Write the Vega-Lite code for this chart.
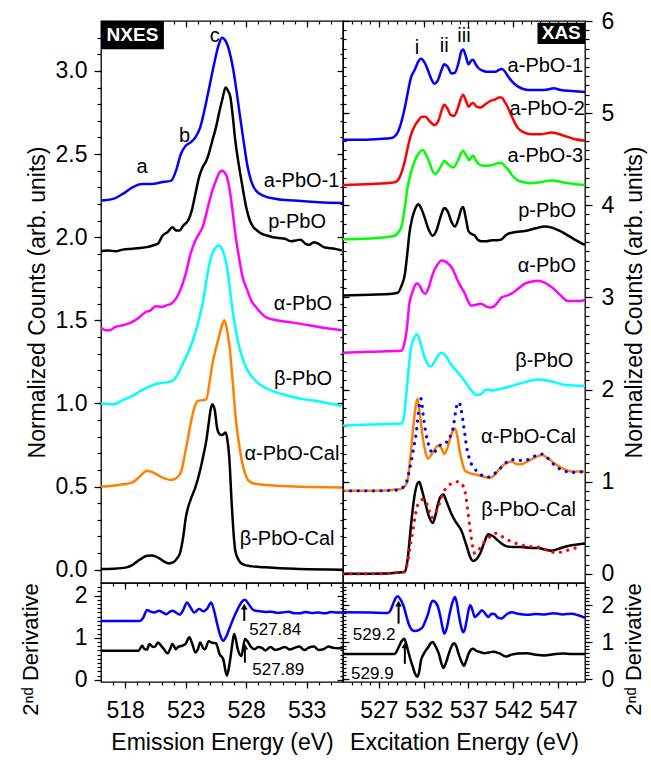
{
  "$schema": "https://vega.github.io/schema/vega-lite/v6.json",
  "background": "white",
  "padding": {"left": 18, "top": 9, "right": 3, "bottom": 3},
  "columns": 2,
  "spacing": 0,
  "align": "each",
  "bounds": "flush",
  "config": {
    "view": {"stroke": "black", "strokeWidth": 1.3},
    "font": "Liberation Sans",
    "text": {"font": "Liberation Sans", "color": "black"},
    "axis": {
      "grid": false, "domain": false, "tickColor": "black", "tickWidth": 1.2,
      "labelColor": "black", "titleColor": "black",
      "labelFont": "Liberation Sans", "titleFont": "Liberation Sans",
      "labelFontSize": 23, "titleFontSize": 23, "titleFontWeight": "normal",
      "labelOverlap": false, "labelFlush": false
    }
  },
  "datasets": {
    "nxes": [
      {"series":"a-PbO-1","energy":516,"value":2.22},{"series":"a-PbO-1","energy":517,"value":2.23},{"series":"a-PbO-1","energy":517.8,"value":2.26},{"series":"a-PbO-1","energy":518.6,"value":2.3},{"series":"a-PbO-1","energy":519.4,"value":2.32},{"series":"a-PbO-1","energy":520.2,"value":2.32},{"series":"a-PbO-1","energy":521,"value":2.33},{"series":"a-PbO-1","energy":521.8,"value":2.34},{"series":"a-PbO-1","energy":522.2,"value":2.4},{"series":"a-PbO-1","energy":522.6,"value":2.5},{"series":"a-PbO-1","energy":523,"value":2.55},{"series":"a-PbO-1","energy":523.4,"value":2.57},{"series":"a-PbO-1","energy":523.8,"value":2.6},{"series":"a-PbO-1","energy":524.2,"value":2.66},{"series":"a-PbO-1","energy":524.6,"value":2.78},{"series":"a-PbO-1","energy":525,"value":2.92},{"series":"a-PbO-1","energy":525.4,"value":3.06},{"series":"a-PbO-1","energy":525.7,"value":3.15},{"series":"a-PbO-1","energy":526,"value":3.2},{"series":"a-PbO-1","energy":526.3,"value":3.18},{"series":"a-PbO-1","energy":526.6,"value":3.12},{"series":"a-PbO-1","energy":526.9,"value":3.02},{"series":"a-PbO-1","energy":527.2,"value":2.88},{"series":"a-PbO-1","energy":527.5,"value":2.72},{"series":"a-PbO-1","energy":527.8,"value":2.57},{"series":"a-PbO-1","energy":528.1,"value":2.43},{"series":"a-PbO-1","energy":528.4,"value":2.34},{"series":"a-PbO-1","energy":528.8,"value":2.28},{"series":"a-PbO-1","energy":529.4,"value":2.25},{"series":"a-PbO-1","energy":530.5,"value":2.23},{"series":"a-PbO-1","energy":532,"value":2.22},{"series":"a-PbO-1","energy":534,"value":2.21},{"series":"a-PbO-1","energy":536,"value":2.205},
      {"series":"p-PbO","energy":516,"value":1.917},{"series":"p-PbO","energy":516.6,"value":1.92},{"series":"p-PbO","energy":517.2,"value":1.915},{"series":"p-PbO","energy":517.8,"value":1.925},{"series":"p-PbO","energy":518.6,"value":1.93},{"series":"p-PbO","energy":519.2,"value":1.935},{"series":"p-PbO","energy":519.8,"value":1.94},{"series":"p-PbO","energy":520.3,"value":1.95},{"series":"p-PbO","energy":520.7,"value":1.96},{"series":"p-PbO","energy":521.1,"value":2.01},{"series":"p-PbO","energy":521.5,"value":2.03},{"series":"p-PbO","energy":521.9,"value":2.06},{"series":"p-PbO","energy":522.2,"value":2.04},{"series":"p-PbO","energy":522.5,"value":2.04},{"series":"p-PbO","energy":522.8,"value":2.07},{"series":"p-PbO","energy":523.2,"value":2.1},{"series":"p-PbO","energy":523.5,"value":2.16},{"series":"p-PbO","energy":523.8,"value":2.26},{"series":"p-PbO","energy":524.1,"value":2.36},{"series":"p-PbO","energy":524.4,"value":2.42},{"series":"p-PbO","energy":524.7,"value":2.46},{"series":"p-PbO","energy":524.9,"value":2.5},{"series":"p-PbO","energy":525.2,"value":2.58},{"series":"p-PbO","energy":525.5,"value":2.66},{"series":"p-PbO","energy":525.8,"value":2.76},{"series":"p-PbO","energy":526,"value":2.82},{"series":"p-PbO","energy":526.3,"value":2.9},{"series":"p-PbO","energy":526.5,"value":2.88},{"series":"p-PbO","energy":526.7,"value":2.84},{"series":"p-PbO","energy":526.9,"value":2.72},{"series":"p-PbO","energy":527.1,"value":2.58},{"series":"p-PbO","energy":527.4,"value":2.43},{"series":"p-PbO","energy":527.7,"value":2.3},{"series":"p-PbO","energy":528,"value":2.18},{"series":"p-PbO","energy":528.3,"value":2.1},{"series":"p-PbO","energy":528.6,"value":2.06},{"series":"p-PbO","energy":528.9,"value":2.04},{"series":"p-PbO","energy":529.3,"value":2.02},{"series":"p-PbO","energy":529.7,"value":2.01},{"series":"p-PbO","energy":530.2,"value":2.0},{"series":"p-PbO","energy":530.7,"value":1.995},{"series":"p-PbO","energy":531.2,"value":1.99},{"series":"p-PbO","energy":531.7,"value":1.975},{"series":"p-PbO","energy":532.1,"value":1.98},{"series":"p-PbO","energy":532.5,"value":1.985},{"series":"p-PbO","energy":532.9,"value":1.96},{"series":"p-PbO","energy":533.2,"value":1.955},{"series":"p-PbO","energy":533.6,"value":1.97},{"series":"p-PbO","energy":534,"value":1.96},{"series":"p-PbO","energy":534.4,"value":1.94},{"series":"p-PbO","energy":534.8,"value":1.935},{"series":"p-PbO","energy":535.3,"value":1.93},{"series":"p-PbO","energy":535.9,"value":1.92},
      {"series":"α-PbO","energy":516,"value":1.456},{"series":"α-PbO","energy":516.4,"value":1.44},{"series":"α-PbO","energy":516.7,"value":1.44},{"series":"α-PbO","energy":517.2,"value":1.46},{"series":"α-PbO","energy":517.8,"value":1.47},{"series":"α-PbO","energy":518.6,"value":1.49},{"series":"α-PbO","energy":519.2,"value":1.52},{"series":"α-PbO","energy":519.7,"value":1.55},{"series":"α-PbO","energy":520.1,"value":1.56},{"series":"α-PbO","energy":520.5,"value":1.585},{"series":"α-PbO","energy":521,"value":1.58},{"series":"α-PbO","energy":521.4,"value":1.59},{"series":"α-PbO","energy":521.8,"value":1.6},{"series":"α-PbO","energy":522.2,"value":1.63},{"series":"α-PbO","energy":522.6,"value":1.69},{"series":"α-PbO","energy":523,"value":1.78},{"series":"α-PbO","energy":523.4,"value":1.9},{"series":"α-PbO","energy":523.8,"value":1.98},{"series":"α-PbO","energy":524.1,"value":2.02},{"series":"α-PbO","energy":524.4,"value":2.06},{"series":"α-PbO","energy":524.7,"value":2.14},{"series":"α-PbO","energy":524.9,"value":2.2},{"series":"α-PbO","energy":525.2,"value":2.28},{"series":"α-PbO","energy":525.5,"value":2.34},{"series":"α-PbO","energy":525.8,"value":2.39},{"series":"α-PbO","energy":526,"value":2.4},{"series":"α-PbO","energy":526.3,"value":2.38},{"series":"α-PbO","energy":526.6,"value":2.3},{"series":"α-PbO","energy":526.9,"value":2.14},{"series":"α-PbO","energy":527.1,"value":2.02},{"series":"α-PbO","energy":527.4,"value":1.88},{"series":"α-PbO","energy":527.7,"value":1.76},{"series":"α-PbO","energy":528.1,"value":1.68},{"series":"α-PbO","energy":528.4,"value":1.62},{"series":"α-PbO","energy":528.8,"value":1.58},{"series":"α-PbO","energy":529.6,"value":1.52},{"series":"α-PbO","energy":530.5,"value":1.5},{"series":"α-PbO","energy":531.5,"value":1.49},{"series":"α-PbO","energy":532.4,"value":1.48},{"series":"α-PbO","energy":534,"value":1.46},{"series":"α-PbO","energy":535.9,"value":1.44},
      {"series":"β-PbO","energy":516,"value":1.0},{"series":"β-PbO","energy":517,"value":0.995},{"series":"β-PbO","energy":517.8,"value":1.02},{"series":"β-PbO","energy":518.6,"value":1.045},{"series":"β-PbO","energy":519.4,"value":1.08},{"series":"β-PbO","energy":520.1,"value":1.105},{"series":"β-PbO","energy":520.7,"value":1.12},{"series":"β-PbO","energy":521.3,"value":1.125},{"series":"β-PbO","energy":521.9,"value":1.135},{"series":"β-PbO","energy":522.3,"value":1.17},{"series":"β-PbO","energy":522.6,"value":1.215},{"series":"β-PbO","energy":523.1,"value":1.29},{"series":"β-PbO","energy":523.6,"value":1.38},{"series":"β-PbO","energy":524,"value":1.48},{"series":"β-PbO","energy":524.4,"value":1.6},{"series":"β-PbO","energy":524.8,"value":1.78},{"series":"β-PbO","energy":525.1,"value":1.88},{"series":"β-PbO","energy":525.4,"value":1.93},{"series":"β-PbO","energy":525.7,"value":1.95},{"series":"β-PbO","energy":526,"value":1.93},{"series":"β-PbO","energy":526.3,"value":1.86},{"series":"β-PbO","energy":526.5,"value":1.78},{"series":"β-PbO","energy":526.7,"value":1.66},{"series":"β-PbO","energy":527,"value":1.5},{"series":"β-PbO","energy":527.3,"value":1.38},{"series":"β-PbO","energy":527.7,"value":1.27},{"series":"β-PbO","energy":528.1,"value":1.2},{"series":"β-PbO","energy":528.6,"value":1.15},{"series":"β-PbO","energy":529.1,"value":1.115},{"series":"β-PbO","energy":530,"value":1.08},{"series":"β-PbO","energy":531,"value":1.055},{"series":"β-PbO","energy":532.4,"value":1.03},{"series":"β-PbO","energy":533.8,"value":1.015},{"series":"β-PbO","energy":535.9,"value":0.985},
      {"series":"α-PbO-Cal","energy":516,"value":0.5},{"series":"α-PbO-Cal","energy":517,"value":0.505},{"series":"α-PbO-Cal","energy":518,"value":0.515},{"series":"α-PbO-Cal","energy":518.6,"value":0.525},{"series":"α-PbO-Cal","energy":519.2,"value":0.56},{"series":"α-PbO-Cal","energy":519.8,"value":0.595},{"series":"α-PbO-Cal","energy":520.3,"value":0.585},{"series":"α-PbO-Cal","energy":520.8,"value":0.565},{"series":"α-PbO-Cal","energy":521.3,"value":0.548},{"series":"α-PbO-Cal","energy":521.8,"value":0.54},{"series":"α-PbO-Cal","energy":522.2,"value":0.55},{"series":"α-PbO-Cal","energy":522.6,"value":0.585},{"series":"α-PbO-Cal","energy":523,"value":0.72},{"series":"α-PbO-Cal","energy":523.4,"value":0.875},{"series":"α-PbO-Cal","energy":523.7,"value":0.97},{"series":"α-PbO-Cal","energy":524,"value":1.015},{"series":"α-PbO-Cal","energy":524.4,"value":1.02},{"series":"α-PbO-Cal","energy":524.7,"value":1.025},{"series":"α-PbO-Cal","energy":525,"value":1.14},{"series":"α-PbO-Cal","energy":525.2,"value":1.235},{"series":"α-PbO-Cal","energy":525.5,"value":1.33},{"series":"α-PbO-Cal","energy":525.8,"value":1.415},{"series":"α-PbO-Cal","energy":526,"value":1.47},{"series":"α-PbO-Cal","energy":526.2,"value":1.5},{"series":"α-PbO-Cal","energy":526.4,"value":1.45},{"series":"α-PbO-Cal","energy":526.6,"value":1.355},{"series":"α-PbO-Cal","energy":526.9,"value":1.12},{"series":"α-PbO-Cal","energy":527.1,"value":0.935},{"series":"α-PbO-Cal","energy":527.4,"value":0.76},{"series":"α-PbO-Cal","energy":527.7,"value":0.635},{"series":"α-PbO-Cal","energy":528,"value":0.56},{"series":"α-PbO-Cal","energy":528.2,"value":0.535},{"series":"α-PbO-Cal","energy":528.8,"value":0.515},{"series":"α-PbO-Cal","energy":529.6,"value":0.51},{"series":"α-PbO-Cal","energy":532,"value":0.5},{"series":"α-PbO-Cal","energy":535.9,"value":0.495},
      {"series":"β-PbO-Cal","energy":516,"value":0.004},{"series":"β-PbO-Cal","energy":517,"value":0.006},{"series":"β-PbO-Cal","energy":518.1,"value":0.014},{"series":"β-PbO-Cal","energy":518.5,"value":0.025},{"series":"β-PbO-Cal","energy":518.9,"value":0.044},{"series":"β-PbO-Cal","energy":519.4,"value":0.07},{"series":"β-PbO-Cal","energy":519.8,"value":0.084},{"series":"β-PbO-Cal","energy":520.2,"value":0.085},{"series":"β-PbO-Cal","energy":520.5,"value":0.08},{"series":"β-PbO-Cal","energy":521,"value":0.06},{"series":"β-PbO-Cal","energy":521.3,"value":0.045},{"series":"β-PbO-Cal","energy":521.6,"value":0.038},{"series":"β-PbO-Cal","energy":522,"value":0.045},{"series":"β-PbO-Cal","energy":522.3,"value":0.07},{"series":"β-PbO-Cal","energy":522.5,"value":0.094},{"series":"β-PbO-Cal","energy":522.8,"value":0.2},{"series":"β-PbO-Cal","energy":523,"value":0.31},{"series":"β-PbO-Cal","energy":523.4,"value":0.42},{"series":"β-PbO-Cal","energy":523.8,"value":0.495},{"series":"β-PbO-Cal","energy":524.2,"value":0.6},{"series":"β-PbO-Cal","energy":524.5,"value":0.7},{"series":"β-PbO-Cal","energy":524.7,"value":0.775},{"series":"β-PbO-Cal","energy":524.9,"value":0.88},{"series":"β-PbO-Cal","energy":525.05,"value":0.96},{"series":"β-PbO-Cal","energy":525.2,"value":0.995},{"series":"β-PbO-Cal","energy":525.4,"value":0.96},{"series":"β-PbO-Cal","energy":525.6,"value":0.85},{"series":"β-PbO-Cal","energy":525.8,"value":0.815},{"series":"β-PbO-Cal","energy":526,"value":0.81},{"series":"β-PbO-Cal","energy":526.2,"value":0.82},{"series":"β-PbO-Cal","energy":526.3,"value":0.825},{"series":"β-PbO-Cal","energy":526.45,"value":0.78},{"series":"β-PbO-Cal","energy":526.6,"value":0.675},{"series":"β-PbO-Cal","energy":526.8,"value":0.4},{"series":"β-PbO-Cal","energy":527,"value":0.18},{"series":"β-PbO-Cal","energy":527.1,"value":0.114},{"series":"β-PbO-Cal","energy":527.4,"value":0.055},{"series":"β-PbO-Cal","energy":527.7,"value":0.034},{"series":"β-PbO-Cal","energy":528.5,"value":0.02},{"series":"β-PbO-Cal","energy":529.6,"value":0.014},{"series":"β-PbO-Cal","energy":532,"value":0.005},{"series":"β-PbO-Cal","energy":536,"value":0.0}
    ],
    "xas": [
      {"series":"a-PbO-1","energy":523,"value":4.71},{"series":"a-PbO-1","energy":525,"value":4.71},{"series":"a-PbO-1","energy":527,"value":4.72},{"series":"a-PbO-1","energy":528.4,"value":4.73},{"series":"a-PbO-1","energy":528.8,"value":4.75},{"series":"a-PbO-1","energy":529.1,"value":4.79},{"series":"a-PbO-1","energy":529.5,"value":4.9},{"series":"a-PbO-1","energy":529.9,"value":5.06},{"series":"a-PbO-1","energy":530.3,"value":5.26},{"series":"a-PbO-1","energy":530.6,"value":5.39},{"series":"a-PbO-1","energy":531,"value":5.47},{"series":"a-PbO-1","energy":531.4,"value":5.56},{"series":"a-PbO-1","energy":531.7,"value":5.59},{"series":"a-PbO-1","energy":532.1,"value":5.55},{"series":"a-PbO-1","energy":532.5,"value":5.46},{"series":"a-PbO-1","energy":532.9,"value":5.36},{"series":"a-PbO-1","energy":533.2,"value":5.32},{"series":"a-PbO-1","energy":533.6,"value":5.36},{"series":"a-PbO-1","energy":534,"value":5.47},{"series":"a-PbO-1","energy":534.3,"value":5.53},{"series":"a-PbO-1","energy":534.7,"value":5.5},{"series":"a-PbO-1","energy":535.1,"value":5.43},{"series":"a-PbO-1","energy":535.5,"value":5.44},{"series":"a-PbO-1","energy":535.9,"value":5.55},{"series":"a-PbO-1","energy":536.2,"value":5.67},{"series":"a-PbO-1","energy":536.4,"value":5.69},{"series":"a-PbO-1","energy":536.7,"value":5.62},{"series":"a-PbO-1","energy":537,"value":5.53},{"series":"a-PbO-1","energy":537.3,"value":5.57},{"series":"a-PbO-1","energy":537.5,"value":5.58},{"series":"a-PbO-1","energy":537.8,"value":5.53},{"series":"a-PbO-1","energy":538.1,"value":5.49},{"series":"a-PbO-1","energy":538.6,"value":5.46},{"series":"a-PbO-1","energy":539,"value":5.45},{"series":"a-PbO-1","energy":539.5,"value":5.45},{"series":"a-PbO-1","energy":540,"value":5.45},{"series":"a-PbO-1","energy":540.4,"value":5.47},{"series":"a-PbO-1","energy":540.7,"value":5.48},{"series":"a-PbO-1","energy":541,"value":5.46},{"series":"a-PbO-1","energy":541.4,"value":5.4},{"series":"a-PbO-1","energy":541.9,"value":5.34},{"series":"a-PbO-1","energy":542.5,"value":5.29},{"series":"a-PbO-1","energy":543.2,"value":5.26},{"series":"a-PbO-1","energy":544,"value":5.25},{"series":"a-PbO-1","energy":545,"value":5.25},{"series":"a-PbO-1","energy":546,"value":5.26},{"series":"a-PbO-1","energy":546.5,"value":5.27},{"series":"a-PbO-1","energy":547.3,"value":5.25},{"series":"a-PbO-1","energy":548.5,"value":5.24},{"series":"a-PbO-1","energy":550,"value":5.23},
      {"series":"a-PbO-2","energy":523,"value":4.22},{"series":"a-PbO-2","energy":526,"value":4.23},{"series":"a-PbO-2","energy":528.8,"value":4.25},{"series":"a-PbO-2","energy":529.3,"value":4.3},{"series":"a-PbO-2","energy":529.9,"value":4.48},{"series":"a-PbO-2","energy":530.3,"value":4.66},{"series":"a-PbO-2","energy":530.6,"value":4.77},{"series":"a-PbO-2","energy":531,"value":4.86},{"series":"a-PbO-2","energy":531.4,"value":4.92},{"series":"a-PbO-2","energy":531.8,"value":4.96},{"series":"a-PbO-2","energy":532.2,"value":4.96},{"series":"a-PbO-2","energy":532.6,"value":4.92},{"series":"a-PbO-2","energy":533.2,"value":4.87},{"series":"a-PbO-2","energy":533.7,"value":4.93},{"series":"a-PbO-2","energy":534,"value":5.03},{"series":"a-PbO-2","energy":534.3,"value":5.09},{"series":"a-PbO-2","energy":534.7,"value":5.04},{"series":"a-PbO-2","energy":535,"value":4.98},{"series":"a-PbO-2","energy":535.4,"value":4.97},{"series":"a-PbO-2","energy":535.8,"value":5.05},{"series":"a-PbO-2","energy":536.2,"value":5.17},{"series":"a-PbO-2","energy":536.4,"value":5.2},{"series":"a-PbO-2","energy":536.7,"value":5.14},{"series":"a-PbO-2","energy":537,"value":5.07},{"series":"a-PbO-2","energy":537.3,"value":5.1},{"series":"a-PbO-2","energy":537.5,"value":5.11},{"series":"a-PbO-2","energy":537.9,"value":5.07},{"series":"a-PbO-2","energy":538.3,"value":5.06},{"series":"a-PbO-2","energy":538.8,"value":5.09},{"series":"a-PbO-2","energy":539.4,"value":5.13},{"series":"a-PbO-2","energy":540,"value":5.15},{"series":"a-PbO-2","energy":540.4,"value":5.17},{"series":"a-PbO-2","energy":540.7,"value":5.17},{"series":"a-PbO-2","energy":541,"value":5.13},{"series":"a-PbO-2","energy":541.4,"value":5.06},{"series":"a-PbO-2","energy":541.9,"value":4.95},{"series":"a-PbO-2","energy":542.5,"value":4.84},{"series":"a-PbO-2","energy":543.2,"value":4.79},{"series":"a-PbO-2","energy":544,"value":4.77},{"series":"a-PbO-2","energy":545,"value":4.77},{"series":"a-PbO-2","energy":546.3,"value":4.79},{"series":"a-PbO-2","energy":547.5,"value":4.76},{"series":"a-PbO-2","energy":548.8,"value":4.72},{"series":"a-PbO-2","energy":550,"value":4.7},
      {"series":"a-PbO-3","energy":523,"value":3.63},{"series":"a-PbO-3","energy":526,"value":3.64},{"series":"a-PbO-3","energy":528.8,"value":3.67},{"series":"a-PbO-3","energy":529.2,"value":3.71},{"series":"a-PbO-3","energy":529.5,"value":3.76},{"series":"a-PbO-3","energy":529.9,"value":3.98},{"series":"a-PbO-3","energy":530.2,"value":4.19},{"series":"a-PbO-3","energy":530.6,"value":4.36},{"series":"a-PbO-3","energy":531,"value":4.48},{"series":"a-PbO-3","energy":531.5,"value":4.57},{"series":"a-PbO-3","energy":531.9,"value":4.6},{"series":"a-PbO-3","energy":532.3,"value":4.54},{"series":"a-PbO-3","energy":532.7,"value":4.45},{"series":"a-PbO-3","energy":533,"value":4.37},{"series":"a-PbO-3","energy":533.3,"value":4.34},{"series":"a-PbO-3","energy":533.8,"value":4.4},{"series":"a-PbO-3","energy":534.3,"value":4.48},{"series":"a-PbO-3","energy":534.8,"value":4.44},{"series":"a-PbO-3","energy":535.3,"value":4.41},{"series":"a-PbO-3","energy":535.8,"value":4.48},{"series":"a-PbO-3","energy":536.2,"value":4.57},{"series":"a-PbO-3","energy":536.4,"value":4.59},{"series":"a-PbO-3","energy":536.8,"value":4.53},{"series":"a-PbO-3","energy":537.1,"value":4.49},{"series":"a-PbO-3","energy":537.3,"value":4.52},{"series":"a-PbO-3","energy":537.5,"value":4.54},{"series":"a-PbO-3","energy":537.8,"value":4.49},{"series":"a-PbO-3","energy":538.1,"value":4.45},{"series":"a-PbO-3","energy":538.6,"value":4.43},{"series":"a-PbO-3","energy":539,"value":4.43},{"series":"a-PbO-3","energy":539.8,"value":4.44},{"series":"a-PbO-3","energy":540.4,"value":4.46},{"series":"a-PbO-3","energy":540.7,"value":4.46},{"series":"a-PbO-3","energy":541,"value":4.43},{"series":"a-PbO-3","energy":541.4,"value":4.39},{"series":"a-PbO-3","energy":541.9,"value":4.32},{"series":"a-PbO-3","energy":542.5,"value":4.27},{"series":"a-PbO-3","energy":543.2,"value":4.25},{"series":"a-PbO-3","energy":544,"value":4.24},{"series":"a-PbO-3","energy":545,"value":4.25},{"series":"a-PbO-3","energy":546.3,"value":4.27},{"series":"a-PbO-3","energy":547.5,"value":4.25},{"series":"a-PbO-3","energy":548.8,"value":4.23},{"series":"a-PbO-3","energy":550,"value":4.22},
      {"series":"p-PbO","energy":523,"value":3.02},{"series":"p-PbO","energy":526,"value":3.03},{"series":"p-PbO","energy":528.5,"value":3.04},{"series":"p-PbO","energy":529.1,"value":3.05},{"series":"p-PbO","energy":529.5,"value":3.12},{"series":"p-PbO","energy":529.9,"value":3.25},{"series":"p-PbO","energy":530.2,"value":3.5},{"series":"p-PbO","energy":530.4,"value":3.69},{"series":"p-PbO","energy":530.7,"value":3.85},{"series":"p-PbO","energy":530.9,"value":3.92},{"series":"p-PbO","energy":531.2,"value":3.99},{"series":"p-PbO","energy":531.4,"value":4.01},{"series":"p-PbO","energy":531.7,"value":3.97},{"series":"p-PbO","energy":532.1,"value":3.87},{"series":"p-PbO","energy":532.5,"value":3.75},{"series":"p-PbO","energy":533,"value":3.67},{"series":"p-PbO","energy":533.4,"value":3.72},{"series":"p-PbO","energy":533.9,"value":3.88},{"series":"p-PbO","energy":534.3,"value":3.97},{"series":"p-PbO","energy":534.7,"value":3.93},{"series":"p-PbO","energy":535.1,"value":3.82},{"series":"p-PbO","energy":535.5,"value":3.77},{"series":"p-PbO","energy":535.9,"value":3.86},{"series":"p-PbO","energy":536.2,"value":3.96},{"series":"p-PbO","energy":536.4,"value":3.98},{"series":"p-PbO","energy":536.7,"value":3.86},{"series":"p-PbO","energy":537,"value":3.72},{"series":"p-PbO","energy":537.3,"value":3.69},{"series":"p-PbO","energy":537.7,"value":3.67},{"series":"p-PbO","energy":538,"value":3.63},{"series":"p-PbO","energy":538.4,"value":3.61},{"series":"p-PbO","energy":539,"value":3.61},{"series":"p-PbO","energy":539.6,"value":3.62},{"series":"p-PbO","energy":540.2,"value":3.62},{"series":"p-PbO","energy":540.7,"value":3.63},{"series":"p-PbO","energy":541,"value":3.66},{"series":"p-PbO","energy":541.4,"value":3.69},{"series":"p-PbO","energy":542.3,"value":3.71},{"series":"p-PbO","energy":543.3,"value":3.72},{"series":"p-PbO","energy":544.5,"value":3.75},{"series":"p-PbO","energy":545.5,"value":3.77},{"series":"p-PbO","energy":546.2,"value":3.76},{"series":"p-PbO","energy":547,"value":3.73},{"series":"p-PbO","energy":547.8,"value":3.69},{"series":"p-PbO","energy":548.8,"value":3.63},{"series":"p-PbO","energy":550,"value":3.57},
      {"series":"α-PbO","energy":523,"value":2.4},{"series":"α-PbO","energy":526,"value":2.41},{"series":"α-PbO","energy":529.5,"value":2.42},{"series":"α-PbO","energy":529.8,"value":2.48},{"series":"α-PbO","energy":530.1,"value":2.64},{"series":"α-PbO","energy":530.4,"value":2.93},{"series":"α-PbO","energy":530.8,"value":3.07},{"series":"α-PbO","energy":531.1,"value":3.14},{"series":"α-PbO","energy":531.3,"value":3.15},{"series":"α-PbO","energy":531.6,"value":3.12},{"series":"α-PbO","energy":531.9,"value":3.06},{"series":"α-PbO","energy":532.2,"value":3.04},{"series":"α-PbO","energy":532.6,"value":3.12},{"series":"α-PbO","energy":533,"value":3.25},{"series":"α-PbO","energy":533.5,"value":3.35},{"series":"α-PbO","energy":534,"value":3.4},{"series":"α-PbO","energy":534.4,"value":3.39},{"series":"α-PbO","energy":534.8,"value":3.36},{"series":"α-PbO","energy":535.1,"value":3.33},{"series":"α-PbO","energy":535.5,"value":3.25},{"series":"α-PbO","energy":535.8,"value":3.18},{"series":"α-PbO","energy":536.2,"value":3.11},{"series":"α-PbO","energy":536.6,"value":3.04},{"series":"α-PbO","energy":537,"value":2.95},{"series":"α-PbO","energy":537.3,"value":2.91},{"series":"α-PbO","energy":537.8,"value":2.92},{"series":"α-PbO","energy":538.4,"value":2.93},{"series":"α-PbO","energy":539,"value":2.9},{"series":"α-PbO","energy":539.5,"value":2.89},{"series":"α-PbO","energy":539.8,"value":2.9},{"series":"α-PbO","energy":540.3,"value":2.95},{"series":"α-PbO","energy":540.7,"value":3.0},{"series":"α-PbO","energy":541.3,"value":3.02},{"series":"α-PbO","energy":541.8,"value":3.04},{"series":"α-PbO","energy":542.5,"value":3.09},{"series":"α-PbO","energy":543.3,"value":3.15},{"series":"α-PbO","energy":544,"value":3.17},{"series":"α-PbO","energy":544.8,"value":3.18},{"series":"α-PbO","energy":545.5,"value":3.16},{"series":"α-PbO","energy":546.3,"value":3.11},{"series":"α-PbO","energy":547.2,"value":3.03},{"series":"α-PbO","energy":548.1,"value":2.96},{"series":"α-PbO","energy":549,"value":2.96},{"series":"α-PbO","energy":550,"value":2.97},
      {"series":"β-PbO","energy":523,"value":1.61},{"series":"β-PbO","energy":526,"value":1.62},{"series":"β-PbO","energy":529.5,"value":1.63},{"series":"β-PbO","energy":529.8,"value":1.7},{"series":"β-PbO","energy":530.1,"value":1.99},{"series":"β-PbO","energy":530.4,"value":2.3},{"series":"β-PbO","energy":530.6,"value":2.46},{"series":"β-PbO","energy":531,"value":2.57},{"series":"β-PbO","energy":531.3,"value":2.6},{"series":"β-PbO","energy":531.6,"value":2.52},{"series":"β-PbO","energy":532.1,"value":2.35},{"series":"β-PbO","energy":532.5,"value":2.27},{"series":"β-PbO","energy":532.8,"value":2.25},{"series":"β-PbO","energy":533.2,"value":2.3},{"series":"β-PbO","energy":533.6,"value":2.37},{"series":"β-PbO","energy":534,"value":2.4},{"series":"β-PbO","energy":534.5,"value":2.36},{"series":"β-PbO","energy":535,"value":2.28},{"series":"β-PbO","energy":535.5,"value":2.22},{"series":"β-PbO","energy":536.1,"value":2.15},{"series":"β-PbO","energy":536.8,"value":2.06},{"series":"β-PbO","energy":537.4,"value":1.98},{"series":"β-PbO","energy":537.9,"value":1.94},{"series":"β-PbO","energy":538.4,"value":1.95},{"series":"β-PbO","energy":538.8,"value":1.99},{"series":"β-PbO","energy":539.2,"value":2.0},{"series":"β-PbO","energy":539.7,"value":1.99},{"series":"β-PbO","energy":540.3,"value":2.0},{"series":"β-PbO","energy":541.1,"value":2.02},{"series":"β-PbO","energy":542.2,"value":2.05},{"series":"β-PbO","energy":543.3,"value":2.08},{"series":"β-PbO","energy":544.1,"value":2.1},{"series":"β-PbO","energy":544.8,"value":2.11},{"series":"β-PbO","energy":545.6,"value":2.1},{"series":"β-PbO","energy":546.6,"value":2.08},{"series":"β-PbO","energy":547.8,"value":2.05},{"series":"β-PbO","energy":550,"value":2.04},
      {"series":"α-PbO-Cal","energy":523,"value":0.9},{"series":"α-PbO-Cal","energy":526,"value":0.9},{"series":"α-PbO-Cal","energy":529.5,"value":0.92},{"series":"α-PbO-Cal","energy":529.9,"value":0.95},{"series":"α-PbO-Cal","energy":530.2,"value":1.01},{"series":"α-PbO-Cal","energy":530.5,"value":1.25},{"series":"α-PbO-Cal","energy":530.8,"value":1.55},{"series":"α-PbO-Cal","energy":531.05,"value":1.78},{"series":"α-PbO-Cal","energy":531.3,"value":1.9},{"series":"α-PbO-Cal","energy":531.55,"value":1.75},{"series":"α-PbO-Cal","energy":531.9,"value":1.48},{"series":"α-PbO-Cal","energy":532.2,"value":1.32},{"series":"α-PbO-Cal","energy":532.5,"value":1.25},{"series":"α-PbO-Cal","energy":532.9,"value":1.3},{"series":"α-PbO-Cal","energy":533.3,"value":1.36},{"series":"α-PbO-Cal","energy":533.6,"value":1.39},{"series":"α-PbO-Cal","energy":534,"value":1.36},{"series":"α-PbO-Cal","energy":534.3,"value":1.3},{"series":"α-PbO-Cal","energy":534.6,"value":1.35},{"series":"α-PbO-Cal","energy":534.9,"value":1.45},{"series":"α-PbO-Cal","energy":535.2,"value":1.54},{"series":"α-PbO-Cal","energy":535.5,"value":1.58},{"series":"α-PbO-Cal","energy":535.8,"value":1.47},{"series":"α-PbO-Cal","energy":536,"value":1.34},{"series":"α-PbO-Cal","energy":536.3,"value":1.21},{"series":"α-PbO-Cal","energy":536.6,"value":1.12},{"series":"α-PbO-Cal","energy":537.2,"value":1.09},{"series":"α-PbO-Cal","energy":538.1,"value":1.07},{"series":"α-PbO-Cal","energy":538.8,"value":1.05},{"series":"α-PbO-Cal","energy":539.4,"value":1.04},{"series":"α-PbO-Cal","energy":539.9,"value":1.07},{"series":"α-PbO-Cal","energy":540.3,"value":1.12},{"series":"α-PbO-Cal","energy":540.9,"value":1.18},{"series":"α-PbO-Cal","energy":541.4,"value":1.21},{"series":"α-PbO-Cal","energy":541.8,"value":1.22},{"series":"α-PbO-Cal","energy":542.4,"value":1.19},{"series":"α-PbO-Cal","energy":542.9,"value":1.19},{"series":"α-PbO-Cal","energy":543.6,"value":1.22},{"series":"α-PbO-Cal","energy":544.4,"value":1.26},{"series":"α-PbO-Cal","energy":545.2,"value":1.29},{"series":"α-PbO-Cal","energy":545.9,"value":1.25},{"series":"α-PbO-Cal","energy":546.7,"value":1.19},{"series":"α-PbO-Cal","energy":547.6,"value":1.14},{"series":"α-PbO-Cal","energy":548.5,"value":1.11},{"series":"α-PbO-Cal","energy":550,"value":1.11},
      {"series":"β-PbO-Cal","energy":523,"value":0.0},{"series":"β-PbO-Cal","energy":526,"value":0.0},{"series":"β-PbO-Cal","energy":529.9,"value":0.02},{"series":"β-PbO-Cal","energy":530.2,"value":0.15},{"series":"β-PbO-Cal","energy":530.6,"value":0.54},{"series":"β-PbO-Cal","energy":531,"value":0.86},{"series":"β-PbO-Cal","energy":531.3,"value":0.98},{"series":"β-PbO-Cal","energy":531.5,"value":1.0},{"series":"β-PbO-Cal","energy":531.8,"value":0.91},{"series":"β-PbO-Cal","energy":532.2,"value":0.76},{"series":"β-PbO-Cal","energy":532.6,"value":0.62},{"series":"β-PbO-Cal","energy":533,"value":0.55},{"series":"β-PbO-Cal","energy":533.3,"value":0.63},{"series":"β-PbO-Cal","energy":533.6,"value":0.76},{"series":"β-PbO-Cal","energy":533.9,"value":0.84},{"series":"β-PbO-Cal","energy":534.2,"value":0.86},{"series":"β-PbO-Cal","energy":534.6,"value":0.77},{"series":"β-PbO-Cal","energy":535.1,"value":0.65},{"series":"β-PbO-Cal","energy":535.6,"value":0.56},{"series":"β-PbO-Cal","energy":536.2,"value":0.47},{"series":"β-PbO-Cal","energy":536.8,"value":0.3},{"series":"β-PbO-Cal","energy":537.2,"value":0.18},{"series":"β-PbO-Cal","energy":537.5,"value":0.14},{"series":"β-PbO-Cal","energy":537.9,"value":0.16},{"series":"β-PbO-Cal","energy":538.3,"value":0.22},{"series":"β-PbO-Cal","energy":538.8,"value":0.35},{"series":"β-PbO-Cal","energy":539.2,"value":0.43},{"series":"β-PbO-Cal","energy":539.7,"value":0.41},{"series":"β-PbO-Cal","energy":540.3,"value":0.36},{"series":"β-PbO-Cal","energy":541.2,"value":0.3},{"series":"β-PbO-Cal","energy":542,"value":0.29},{"series":"β-PbO-Cal","energy":542.9,"value":0.29},{"series":"β-PbO-Cal","energy":544,"value":0.28},{"series":"β-PbO-Cal","energy":544.8,"value":0.28},{"series":"β-PbO-Cal","energy":545.6,"value":0.26},{"series":"β-PbO-Cal","energy":546.3,"value":0.25},{"series":"β-PbO-Cal","energy":547.3,"value":0.28},{"series":"β-PbO-Cal","energy":548.5,"value":0.31},{"series":"β-PbO-Cal","energy":550,"value":0.33}
    ],
    "xas_calc": [
      {"series":"α-PbO-Cal calc","energy":523,"value":0.9},{"series":"α-PbO-Cal calc","energy":526,"value":0.9},{"series":"α-PbO-Cal calc","energy":529.2,"value":0.91},{"series":"α-PbO-Cal calc","energy":529.7,"value":0.94},{"series":"α-PbO-Cal calc","energy":530.1,"value":1.0},{"series":"α-PbO-Cal calc","energy":530.4,"value":1.12},{"series":"α-PbO-Cal calc","energy":530.8,"value":1.32},{"series":"α-PbO-Cal calc","energy":531.2,"value":1.55},{"series":"α-PbO-Cal calc","energy":531.45,"value":1.78},{"series":"α-PbO-Cal calc","energy":531.7,"value":1.9},{"series":"α-PbO-Cal calc","energy":531.95,"value":1.72},{"series":"α-PbO-Cal calc","energy":532.2,"value":1.55},{"series":"α-PbO-Cal calc","energy":532.4,"value":1.45},{"series":"α-PbO-Cal calc","energy":532.7,"value":1.36},{"series":"α-PbO-Cal calc","energy":533,"value":1.3},{"series":"α-PbO-Cal calc","energy":533.5,"value":1.36},{"series":"α-PbO-Cal calc","energy":534,"value":1.41},{"series":"α-PbO-Cal calc","energy":534.4,"value":1.43},{"series":"α-PbO-Cal calc","energy":534.7,"value":1.43},{"series":"α-PbO-Cal calc","energy":535,"value":1.5},{"series":"α-PbO-Cal calc","energy":535.3,"value":1.59},{"series":"α-PbO-Cal calc","energy":535.55,"value":1.75},{"series":"α-PbO-Cal calc","energy":535.8,"value":1.86},{"series":"α-PbO-Cal calc","energy":536,"value":1.85},{"series":"α-PbO-Cal calc","energy":536.2,"value":1.77},{"series":"α-PbO-Cal calc","energy":536.5,"value":1.58},{"series":"α-PbO-Cal calc","energy":536.8,"value":1.37},{"series":"α-PbO-Cal calc","energy":537.2,"value":1.22},{"series":"α-PbO-Cal calc","energy":537.7,"value":1.14},{"series":"α-PbO-Cal calc","energy":538.3,"value":1.08},{"series":"α-PbO-Cal calc","energy":539.2,"value":1.05},{"series":"α-PbO-Cal calc","energy":539.8,"value":1.08},{"series":"α-PbO-Cal calc","energy":540.3,"value":1.12},{"series":"α-PbO-Cal calc","energy":540.9,"value":1.18},{"series":"α-PbO-Cal calc","energy":541.8,"value":1.24},{"series":"α-PbO-Cal calc","energy":542.5,"value":1.23},{"series":"α-PbO-Cal calc","energy":543.3,"value":1.23},{"series":"α-PbO-Cal calc","energy":544.2,"value":1.27},{"series":"α-PbO-Cal calc","energy":545.2,"value":1.3},{"series":"α-PbO-Cal calc","energy":545.9,"value":1.25},{"series":"α-PbO-Cal calc","energy":546.7,"value":1.17},{"series":"α-PbO-Cal calc","energy":547.6,"value":1.12},{"series":"α-PbO-Cal calc","energy":548.5,"value":1.1},{"series":"α-PbO-Cal calc","energy":550,"value":1.11},
      {"series":"β-PbO-Cal calc","energy":523,"value":0.0},{"series":"β-PbO-Cal calc","energy":526,"value":0.0},{"series":"β-PbO-Cal calc","energy":529.8,"value":0.02},{"series":"β-PbO-Cal calc","energy":530.2,"value":0.12},{"series":"β-PbO-Cal calc","energy":530.5,"value":0.3},{"series":"β-PbO-Cal calc","energy":530.8,"value":0.47},{"series":"β-PbO-Cal calc","energy":531.1,"value":0.65},{"series":"β-PbO-Cal calc","energy":531.4,"value":0.76},{"series":"β-PbO-Cal calc","energy":532,"value":0.81},{"series":"β-PbO-Cal calc","energy":532.4,"value":0.75},{"series":"β-PbO-Cal calc","energy":532.9,"value":0.61},{"series":"β-PbO-Cal calc","energy":533.2,"value":0.64},{"series":"β-PbO-Cal calc","energy":533.6,"value":0.72},{"series":"β-PbO-Cal calc","energy":534,"value":0.83},{"series":"β-PbO-Cal calc","energy":534.3,"value":0.9},{"series":"β-PbO-Cal calc","energy":534.7,"value":0.95},{"series":"β-PbO-Cal calc","energy":535.1,"value":0.98},{"series":"β-PbO-Cal calc","energy":535.5,"value":0.995},{"series":"β-PbO-Cal calc","energy":535.9,"value":1.0},{"series":"β-PbO-Cal calc","energy":536.2,"value":0.98},{"series":"β-PbO-Cal calc","energy":536.6,"value":0.9},{"series":"β-PbO-Cal calc","energy":536.9,"value":0.7},{"series":"β-PbO-Cal calc","energy":537.2,"value":0.47},{"series":"β-PbO-Cal calc","energy":537.5,"value":0.28},{"series":"β-PbO-Cal calc","energy":537.7,"value":0.22},{"series":"β-PbO-Cal calc","energy":538,"value":0.24},{"series":"β-PbO-Cal calc","energy":538.5,"value":0.31},{"series":"β-PbO-Cal calc","energy":538.9,"value":0.36},{"series":"β-PbO-Cal calc","energy":539.5,"value":0.41},{"series":"β-PbO-Cal calc","energy":540,"value":0.44},{"series":"β-PbO-Cal calc","energy":540.5,"value":0.42},{"series":"β-PbO-Cal calc","energy":541.1,"value":0.38},{"series":"β-PbO-Cal calc","energy":541.8,"value":0.35},{"series":"β-PbO-Cal calc","energy":542.6,"value":0.32},{"series":"β-PbO-Cal calc","energy":543.6,"value":0.3},{"series":"β-PbO-Cal calc","energy":544.8,"value":0.29},{"series":"β-PbO-Cal calc","energy":545.7,"value":0.26},{"series":"β-PbO-Cal calc","energy":546.7,"value":0.23},{"series":"β-PbO-Cal calc","energy":547.6,"value":0.24},{"series":"β-PbO-Cal calc","energy":548.5,"value":0.27},{"series":"β-PbO-Cal calc","energy":549.6,"value":0.29}
    ],
    "nxes_d": [
      {"series":"a-PbO-1","energy":516,"value":1.4},{"series":"a-PbO-1","energy":519.2,"value":1.4},{"series":"a-PbO-1","energy":519.5,"value":1.48},{"series":"a-PbO-1","energy":519.8,"value":1.66},{"series":"a-PbO-1","energy":520.1,"value":1.62},{"series":"a-PbO-1","energy":520.4,"value":1.6},{"series":"a-PbO-1","energy":520.8,"value":1.64},{"series":"a-PbO-1","energy":521.1,"value":1.6},{"series":"a-PbO-1","energy":521.4,"value":1.56},{"series":"a-PbO-1","energy":521.7,"value":1.62},{"series":"a-PbO-1","energy":521.9,"value":1.64},{"series":"a-PbO-1","energy":522.2,"value":1.6},{"series":"a-PbO-1","energy":522.5,"value":1.55},{"series":"a-PbO-1","energy":522.8,"value":1.66},{"series":"a-PbO-1","energy":523.1,"value":1.84},{"series":"a-PbO-1","energy":523.4,"value":1.72},{"series":"a-PbO-1","energy":523.7,"value":1.6},{"series":"a-PbO-1","energy":524.1,"value":1.68},{"series":"a-PbO-1","energy":524.5,"value":1.63},{"series":"a-PbO-1","energy":524.8,"value":1.7},{"series":"a-PbO-1","energy":525.1,"value":1.84},{"series":"a-PbO-1","energy":525.35,"value":1.64},{"series":"a-PbO-1","energy":525.6,"value":1.33},{"series":"a-PbO-1","energy":525.85,"value":1.06},{"series":"a-PbO-1","energy":526.1,"value":0.93},{"series":"a-PbO-1","energy":526.35,"value":1.03},{"series":"a-PbO-1","energy":526.6,"value":1.21},{"series":"a-PbO-1","energy":527,"value":1.5},{"series":"a-PbO-1","energy":527.3,"value":1.68},{"series":"a-PbO-1","energy":527.6,"value":1.84},{"series":"a-PbO-1","energy":527.9,"value":1.9},{"series":"a-PbO-1","energy":528.2,"value":1.8},{"series":"a-PbO-1","energy":528.5,"value":1.68},{"series":"a-PbO-1","energy":528.8,"value":1.64},{"series":"a-PbO-1","energy":529.1,"value":1.63},{"series":"a-PbO-1","energy":529.6,"value":1.61},{"series":"a-PbO-1","energy":530.1,"value":1.62},{"series":"a-PbO-1","energy":530.6,"value":1.59},{"series":"a-PbO-1","energy":531,"value":1.6},{"series":"a-PbO-1","energy":531.5,"value":1.62},{"series":"a-PbO-1","energy":532,"value":1.58},{"series":"a-PbO-1","energy":532.4,"value":1.58},{"series":"a-PbO-1","energy":532.9,"value":1.61},{"series":"a-PbO-1","energy":533.4,"value":1.59},{"series":"a-PbO-1","energy":534,"value":1.6},{"series":"a-PbO-1","energy":534.5,"value":1.58},{"series":"a-PbO-1","energy":535,"value":1.61},{"series":"a-PbO-1","energy":535.5,"value":1.6},{"series":"a-PbO-1","energy":536,"value":1.6},
      {"series":"p-PbO","energy":516,"value":0.69},{"series":"p-PbO","energy":519.1,"value":0.69},{"series":"p-PbO","energy":519.4,"value":0.81},{"series":"p-PbO","energy":519.6,"value":0.73},{"series":"p-PbO","energy":519.8,"value":0.72},{"series":"p-PbO","energy":520,"value":0.85},{"series":"p-PbO","energy":520.3,"value":0.78},{"series":"p-PbO","energy":520.5,"value":0.8},{"series":"p-PbO","energy":520.7,"value":0.89},{"series":"p-PbO","energy":521,"value":0.8},{"series":"p-PbO","energy":521.2,"value":0.73},{"series":"p-PbO","energy":521.5,"value":0.63},{"series":"p-PbO","energy":521.7,"value":0.72},{"series":"p-PbO","energy":521.9,"value":0.85},{"series":"p-PbO","energy":522.2,"value":0.73},{"series":"p-PbO","energy":522.4,"value":0.79},{"series":"p-PbO","energy":522.7,"value":0.81},{"series":"p-PbO","energy":523,"value":0.86},{"series":"p-PbO","energy":523.3,"value":1.01},{"series":"p-PbO","energy":523.55,"value":0.85},{"series":"p-PbO","energy":523.8,"value":0.65},{"series":"p-PbO","energy":524,"value":0.72},{"series":"p-PbO","energy":524.2,"value":0.89},{"series":"p-PbO","energy":524.45,"value":0.75},{"series":"p-PbO","energy":524.6,"value":0.73},{"series":"p-PbO","energy":524.9,"value":0.92},{"series":"p-PbO","energy":525.2,"value":0.88},{"series":"p-PbO","energy":525.5,"value":0.87},{"series":"p-PbO","energy":525.8,"value":0.61},{"series":"p-PbO","energy":526.1,"value":0.49},{"series":"p-PbO","energy":526.4,"value":0.1},{"series":"p-PbO","energy":526.55,"value":0.25},{"series":"p-PbO","energy":526.7,"value":0.53},{"series":"p-PbO","energy":526.85,"value":0.85},{"series":"p-PbO","energy":527,"value":1.09},{"series":"p-PbO","energy":527.15,"value":0.95},{"series":"p-PbO","energy":527.3,"value":0.73},{"series":"p-PbO","energy":527.6,"value":0.57},{"series":"p-PbO","energy":527.9,"value":0.97},{"series":"p-PbO","energy":528.1,"value":0.92},{"series":"p-PbO","energy":528.4,"value":0.78},{"series":"p-PbO","energy":528.7,"value":0.73},{"series":"p-PbO","energy":529,"value":0.78},{"series":"p-PbO","energy":529.3,"value":0.76},{"series":"p-PbO","energy":529.6,"value":0.7},{"series":"p-PbO","energy":530,"value":0.78},{"series":"p-PbO","energy":530.4,"value":0.71},{"series":"p-PbO","energy":530.8,"value":0.74},{"series":"p-PbO","energy":531.2,"value":0.78},{"series":"p-PbO","energy":531.6,"value":0.72},{"series":"p-PbO","energy":532,"value":0.76},{"series":"p-PbO","energy":532.4,"value":0.79},{"series":"p-PbO","energy":532.8,"value":0.71},{"series":"p-PbO","energy":533.2,"value":0.77},{"series":"p-PbO","energy":533.6,"value":0.79},{"series":"p-PbO","energy":534,"value":0.71},{"series":"p-PbO","energy":534.4,"value":0.73},{"series":"p-PbO","energy":534.8,"value":0.79},{"series":"p-PbO","energy":535.2,"value":0.76},{"series":"p-PbO","energy":535.6,"value":0.75},{"series":"p-PbO","energy":536,"value":0.76}
    ],
    "xas_d": [
      {"series":"a-PbO-1","energy":523,"value":1.81},{"series":"a-PbO-1","energy":526,"value":1.8},{"series":"a-PbO-1","energy":528,"value":1.79},{"series":"a-PbO-1","energy":528.3,"value":1.86},{"series":"a-PbO-1","energy":528.6,"value":2.04},{"series":"a-PbO-1","energy":528.85,"value":2.18},{"series":"a-PbO-1","energy":529.1,"value":2.24},{"series":"a-PbO-1","energy":529.4,"value":2.16},{"series":"a-PbO-1","energy":529.8,"value":1.95},{"series":"a-PbO-1","energy":530.1,"value":1.68},{"series":"a-PbO-1","energy":530.4,"value":1.45},{"series":"a-PbO-1","energy":530.7,"value":1.33},{"series":"a-PbO-1","energy":531,"value":1.3},{"series":"a-PbO-1","energy":531.5,"value":1.33},{"series":"a-PbO-1","energy":531.9,"value":1.41},{"series":"a-PbO-1","energy":532.2,"value":1.58},{"series":"a-PbO-1","energy":532.5,"value":1.77},{"series":"a-PbO-1","energy":532.75,"value":2.0},{"series":"a-PbO-1","energy":533,"value":2.12},{"series":"a-PbO-1","energy":533.3,"value":2.08},{"series":"a-PbO-1","energy":533.6,"value":1.95},{"series":"a-PbO-1","energy":533.9,"value":1.65},{"series":"a-PbO-1","energy":534.1,"value":1.4},{"series":"a-PbO-1","energy":534.3,"value":1.23},{"series":"a-PbO-1","energy":534.6,"value":1.4},{"series":"a-PbO-1","energy":534.9,"value":1.77},{"series":"a-PbO-1","energy":535.2,"value":2.07},{"series":"a-PbO-1","energy":535.5,"value":2.22},{"series":"a-PbO-1","energy":535.7,"value":2.06},{"series":"a-PbO-1","energy":535.9,"value":1.77},{"series":"a-PbO-1","energy":536.15,"value":1.45},{"series":"a-PbO-1","energy":536.4,"value":1.27},{"series":"a-PbO-1","energy":536.6,"value":1.35},{"series":"a-PbO-1","energy":536.8,"value":1.59},{"series":"a-PbO-1","energy":537,"value":1.86},{"series":"a-PbO-1","energy":537.2,"value":2.0},{"series":"a-PbO-1","energy":537.45,"value":1.86},{"series":"a-PbO-1","energy":537.7,"value":1.68},{"series":"a-PbO-1","energy":538.1,"value":1.76},{"series":"a-PbO-1","energy":538.5,"value":1.86},{"series":"a-PbO-1","energy":538.9,"value":1.76},{"series":"a-PbO-1","energy":539.2,"value":1.68},{"series":"a-PbO-1","energy":539.6,"value":1.77},{"series":"a-PbO-1","energy":539.9,"value":1.76},{"series":"a-PbO-1","energy":540.3,"value":1.66},{"series":"a-PbO-1","energy":540.7,"value":1.64},{"series":"a-PbO-1","energy":541.2,"value":1.74},{"series":"a-PbO-1","energy":541.8,"value":1.81},{"series":"a-PbO-1","energy":542.5,"value":1.77},{"series":"a-PbO-1","energy":543.5,"value":1.74},{"series":"a-PbO-1","energy":544.5,"value":1.76},{"series":"a-PbO-1","energy":545.5,"value":1.75},{"series":"a-PbO-1","energy":546.5,"value":1.78},{"series":"a-PbO-1","energy":547.5,"value":1.75},{"series":"a-PbO-1","energy":548.5,"value":1.77},{"series":"a-PbO-1","energy":549.3,"value":1.72},{"series":"a-PbO-1","energy":550,"value":1.66},
      {"series":"p-PbO","energy":523,"value":0.68},{"series":"p-PbO","energy":526,"value":0.68},{"series":"p-PbO","energy":528.8,"value":0.68},{"series":"p-PbO","energy":529.05,"value":0.78},{"series":"p-PbO","energy":529.3,"value":0.91},{"series":"p-PbO","energy":529.55,"value":1.03},{"series":"p-PbO","energy":529.8,"value":1.09},{"series":"p-PbO","energy":530,"value":1.0},{"series":"p-PbO","energy":530.2,"value":0.82},{"series":"p-PbO","energy":530.5,"value":0.55},{"series":"p-PbO","energy":530.8,"value":0.32},{"series":"p-PbO","energy":531.05,"value":0.14},{"series":"p-PbO","energy":531.3,"value":0.06},{"series":"p-PbO","energy":531.5,"value":0.2},{"series":"p-PbO","energy":531.7,"value":0.5},{"series":"p-PbO","energy":532.1,"value":0.72},{"series":"p-PbO","energy":532.5,"value":0.86},{"series":"p-PbO","energy":532.75,"value":0.96},{"series":"p-PbO","energy":533,"value":1.0},{"series":"p-PbO","energy":533.3,"value":0.9},{"series":"p-PbO","energy":533.7,"value":0.68},{"series":"p-PbO","energy":533.95,"value":0.45},{"series":"p-PbO","energy":534.2,"value":0.3},{"series":"p-PbO","energy":534.5,"value":0.45},{"series":"p-PbO","energy":534.8,"value":0.68},{"series":"p-PbO","energy":535.1,"value":0.88},{"series":"p-PbO","energy":535.4,"value":0.97},{"series":"p-PbO","energy":535.65,"value":0.88},{"series":"p-PbO","energy":535.9,"value":0.68},{"series":"p-PbO","energy":536.2,"value":0.48},{"series":"p-PbO","energy":536.5,"value":0.36},{"series":"p-PbO","energy":536.75,"value":0.5},{"series":"p-PbO","energy":537,"value":0.68},{"series":"p-PbO","energy":537.3,"value":0.8},{"series":"p-PbO","energy":537.5,"value":0.82},{"series":"p-PbO","energy":537.9,"value":0.76},{"series":"p-PbO","energy":538.3,"value":0.73},{"series":"p-PbO","energy":538.8,"value":0.7},{"series":"p-PbO","energy":539.3,"value":0.72},{"series":"p-PbO","energy":539.8,"value":0.74},{"series":"p-PbO","energy":540.4,"value":0.7},{"series":"p-PbO","energy":541.2,"value":0.61},{"series":"p-PbO","energy":541.8,"value":0.66},{"series":"p-PbO","energy":542.5,"value":0.69},{"series":"p-PbO","energy":543.5,"value":0.7},{"series":"p-PbO","energy":544.5,"value":0.66},{"series":"p-PbO","energy":545.5,"value":0.64},{"series":"p-PbO","energy":546.5,"value":0.67},{"series":"p-PbO","energy":547.5,"value":0.69},{"series":"p-PbO","energy":548.5,"value":0.68},{"series":"p-PbO","energy":550,"value":0.68}
    ],
    "nxes_labels": [
      {"label":"a-PbO-1","energy":535.7,"value":2.34},{"label":"p-PbO","energy":534.6,"value":2.09},{"label":"α-PbO","energy":535.1,"value":1.6},{"label":"β-PbO","energy":535.1,"value":1.146},{"label":"α-PbO-Cal","energy":535.7,"value":0.695},{"label":"β-PbO-Cal","energy":535.3,"value":0.185}
    ],
    "xas_labels": [
      {"label":"a-PbO-1","energy":549.8,"value":5.51},{"label":"a-PbO-2","energy":550,"value":5.05},{"label":"a-PbO-3","energy":549.8,"value":4.54},{"label":"p-PbO","energy":549,"value":3.94},{"label":"α-PbO","energy":549,"value":3.34},{"label":"β-PbO","energy":548.7,"value":2.31},{"label":"α-PbO-Cal","energy":549,"value":1.48},{"label":"β-PbO-Cal","energy":549,"value":0.69}
    ],
    "nxes_letters": [
      {"label":"a","energy":519.4,"value":2.42},{"label":"b","energy":522.9,"value":2.61},{"label":"c","energy":525.4,"value":3.21}
    ],
    "xas_letters": [
      {"label":"i","energy":531.25,"value":5.71},{"label":"ii","energy":534.3,"value":5.73},{"label":"iii","energy":536.5,"value":5.84}
    ],
    "nxes_box": [{"label":"NXES","energy":516,"energy2":521.2,"value":3.13,"value2":3.3,"mid":518.6,"midv":3.215}],
    "xas_box": [{"label":"XAS","energy":544.7,"energy2":550,"value":5.75,"value2":5.98,"mid":547.35,"midv":5.865}],
    "nxes_arrows": [{"energy":527.84,"value":1.4,"value2":1.74,"label":"527.84","lx":528.25,"ly":1.18},{"energy":527.89,"value":0.41,"value2":0.79,"label":"527.89","lx":528.5,"ly":0.24}],
    "xas_arrows": [{"energy":529.2,"value":1.5,"value2":2.04,"label":"529.2","lx":524.1,"ly":1.18},{"energy":529.9,"value":0.41,"value2":0.91,"label":"529.9","lx":523.9,"ly":0.14}]
  },
  "concat": [
    {
      "width": 242, "height": 562,
      "layer": [
        {
          "data": {"name": "nxes"},
          "mark": {"type": "line", "clip": true, "strokeWidth": 2.5, "interpolate": "monotone"},
          "encoding": {
            "x": {"field": "energy", "type": "quantitative", "scale": {"domain": [516, 536], "nice": false, "zero": false},
                  "axis": {"orient": "top", "values": [518, 523, 528, 533], "labels": false, "title": null, "tickSize": 6, "offset": -6}},
            "y": {"field": "value", "type": "quantitative", "scale": {"domain": [-0.08, 3.3], "nice": false, "zero": false},
                  "axis": {"orient": "left", "values": [0, 0.5, 1, 1.5, 2, 2.5, 3], "format": ".1f", "tickSize": 7, "labelPadding": 7, "title": "Normalized Counts (arb. units)", "titlePadding": 6}},
            "color": {"field": "series", "type": "nominal", "legend": null,
                      "scale": {"domain": ["a-PbO-1","a-PbO-2","a-PbO-3","p-PbO","α-PbO","β-PbO","α-PbO-Cal","β-PbO-Cal","α-PbO-Cal calc","β-PbO-Cal calc"], "range": ["#0000ff","#ff0000","#00ff00","#000000","#ff00ff","#00ffff","#ff8000","#000000","#0000ff","#ff0000"]}}
          }
        },
        {
          "data": {"name": "nxes_labels"},
          "mark": {"type": "text", "align": "right", "baseline": "middle", "fontSize": 20},
          "encoding": {
            "x": {"field": "energy", "type": "quantitative", "scale": {"domain": [516, 536], "nice": false, "zero": false},
                  "axis": {"orient": "top", "values": [517,518,519,520,521,522,523,524,525,526,527,528,529,530,531,532,533,534,535], "labels": false, "title": null, "tickSize": 3, "offset": -3}},
            "y": {"field": "value", "type": "quantitative", "scale": {"domain": [-0.08, 3.3], "nice": false, "zero": false},
                  "axis": {"orient": "left", "values": [0,0.1,0.2,0.3,0.4,0.5,0.6,0.7,0.8,0.9,1,1.1,1.2,1.3,1.4,1.5,1.6,1.7,1.8,1.9,2,2.1,2.2,2.3,2.4,2.5,2.6,2.7,2.8,2.9,3,3.1,3.2], "labels": false, "title": null, "tickSize": 4}},
            "text": {"field": "label"}
          }
        },
        {
          "data": {"name": "nxes_letters"},
          "mark": {"type": "text", "align": "center", "baseline": "middle", "fontSize": 20},
          "encoding": {
            "x": {"field": "energy", "type": "quantitative", "scale": {"domain": [516, 536], "nice": false, "zero": false}, "axis": null},
            "y": {"field": "value", "type": "quantitative", "scale": {"domain": [-0.08, 3.3], "nice": false, "zero": false},
                  "axis": {"orient": "right", "values": [0, 0.5, 1, 1.5, 2, 2.5, 3], "labels": false, "title": null, "tickSize": 6, "offset": -6}},
            "text": {"field": "label"}
          }
        },
        {
          "data": {"name": "nxes_box"},
          "mark": {"type": "rect", "color": "black"},
          "encoding": {
            "x": {"field": "energy", "type": "quantitative", "scale": {"domain": [516, 536], "nice": false, "zero": false}, "axis": null},
            "x2": {"field": "energy2"},
            "y": {"field": "value", "type": "quantitative", "scale": {"domain": [-0.08, 3.3], "nice": false, "zero": false},
                  "axis": {"orient": "right", "values": [0,0.1,0.2,0.3,0.4,0.5,0.6,0.7,0.8,0.9,1,1.1,1.2,1.3,1.4,1.5,1.6,1.7,1.8,1.9,2,2.1,2.2,2.3,2.4,2.5,2.6,2.7,2.8,2.9,3,3.1,3.2], "labels": false, "title": null, "tickSize": 3, "offset": -3}},
            "y2": {"field": "value2"}
          }
        },
        {
          "data": {"name": "nxes_box"},
          "mark": {"type": "text", "align": "center", "baseline": "middle", "fontSize": 19, "fontWeight": "bold", "color": "white"},
          "encoding": {
            "x": {"field": "mid", "type": "quantitative", "scale": {"domain": [516, 536], "nice": false, "zero": false}, "axis": null},
            "y": {"field": "midv", "type": "quantitative", "scale": {"domain": [-0.08, 3.3], "nice": false, "zero": false}, "axis": null},
            "text": {"field": "label"}
          }
        }
      ],
      "resolve": {"axis": {"x": "independent", "y": "independent"}}
    },
    {
      "width": 242, "height": 562,
      "layer": [
        {
          "data": {"name": "xas"},
          "mark": {"type": "line", "clip": true, "strokeWidth": 2.5, "interpolate": "monotone"},
          "encoding": {
            "x": {"field": "energy", "type": "quantitative", "scale": {"domain": [523, 550], "nice": false, "zero": false},
                  "axis": {"orient": "top", "values": [527, 532, 537, 542, 547], "labels": false, "title": null, "tickSize": 6, "offset": -6}},
            "y": {"field": "value", "type": "quantitative", "scale": {"domain": [-0.1, 6], "nice": false, "zero": false},
                  "axis": {"orient": "right", "values": [0, 1, 2, 3, 4, 5, 6], "tickSize": 7, "labelPadding": 9, "title": "Normalized Counts (arb. units)", "titleAngle": 270, "titleBaseline": "top", "titlePadding": 10}},
            "color": {"field": "series", "type": "nominal", "legend": null,
                      "scale": {"domain": ["a-PbO-1","a-PbO-2","a-PbO-3","p-PbO","α-PbO","β-PbO","α-PbO-Cal","β-PbO-Cal","α-PbO-Cal calc","β-PbO-Cal calc"], "range": ["#0000ff","#ff0000","#00ff00","#000000","#ff00ff","#00ffff","#ff8000","#000000","#0000ff","#ff0000"]}}
          }
        },
        {
          "data": {"name": "xas_calc"},
          "mark": {"type": "line", "clip": true, "strokeWidth": 3.2, "strokeCap": "round", "strokeDash": [0.1, 7.5], "interpolate": "monotone"},
          "encoding": {
            "x": {"field": "energy", "type": "quantitative", "scale": {"domain": [523, 550], "nice": false, "zero": false},
                  "axis": {"orient": "top", "values": [524,525,526,527,528,529,530,531,532,533,534,535,536,537,538,539,540,541,542,543,544,545,546,547,548,549], "labels": false, "title": null, "tickSize": 3, "offset": -3}},
            "y": {"field": "value", "type": "quantitative", "scale": {"domain": [-0.1, 6], "nice": false, "zero": false},
                  "axis": {"orient": "right", "values": [0,0.1,0.2,0.3,0.4,0.5,0.6,0.7,0.8,0.9,1,1.1,1.2,1.3,1.4,1.5,1.6,1.7,1.8,1.9,2,2.1,2.2,2.3,2.4,2.5,2.6,2.7,2.8,2.9,3,3.1,3.2,3.3,3.4,3.5,3.6,3.7,3.8,3.9,4,4.1,4.2,4.3,4.4,4.5,4.6,4.7,4.8,4.9,5,5.1,5.2,5.3,5.4,5.5,5.6,5.7,5.8,5.9], "labels": false, "title": null, "tickSize": 4}},
            "color": {"field": "series", "type": "nominal", "legend": null,
                      "scale": {"domain": ["a-PbO-1","a-PbO-2","a-PbO-3","p-PbO","α-PbO","β-PbO","α-PbO-Cal","β-PbO-Cal","α-PbO-Cal calc","β-PbO-Cal calc"], "range": ["#0000ff","#ff0000","#00ff00","#000000","#ff00ff","#00ffff","#ff8000","#000000","#0000ff","#ff0000"]}}
          }
        },
        {
          "data": {"name": "xas_labels"},
          "mark": {"type": "text", "align": "right", "baseline": "middle", "fontSize": 20},
          "encoding": {
            "x": {"field": "energy", "type": "quantitative", "scale": {"domain": [523, 550], "nice": false, "zero": false}, "axis": null},
            "y": {"field": "value", "type": "quantitative", "scale": {"domain": [-0.1, 6], "nice": false, "zero": false},
                  "axis": {"orient": "left", "values": [0, 1, 2, 3, 4, 5, 6], "labels": false, "title": null, "tickSize": 6, "offset": -6}},
            "text": {"field": "label"}
          }
        },
        {
          "data": {"name": "xas_letters"},
          "mark": {"type": "text", "align": "center", "baseline": "middle", "fontSize": 20},
          "encoding": {
            "x": {"field": "energy", "type": "quantitative", "scale": {"domain": [523, 550], "nice": false, "zero": false}, "axis": null},
            "y": {"field": "value", "type": "quantitative", "scale": {"domain": [-0.1, 6], "nice": false, "zero": false},
                  "axis": {"orient": "left", "values": [0,0.1,0.2,0.3,0.4,0.5,0.6,0.7,0.8,0.9,1,1.1,1.2,1.3,1.4,1.5,1.6,1.7,1.8,1.9,2,2.1,2.2,2.3,2.4,2.5,2.6,2.7,2.8,2.9,3,3.1,3.2,3.3,3.4,3.5,3.6,3.7,3.8,3.9,4,4.1,4.2,4.3,4.4,4.5,4.6,4.7,4.8,4.9,5,5.1,5.2,5.3,5.4,5.5,5.6,5.7,5.8,5.9], "labels": false, "title": null, "tickSize": 3, "offset": -3}},
            "text": {"field": "label"}
          }
        },
        {
          "data": {"name": "xas_box"},
          "mark": {"type": "rect", "color": "black"},
          "encoding": {
            "x": {"field": "energy", "type": "quantitative", "scale": {"domain": [523, 550], "nice": false, "zero": false}, "axis": null},
            "x2": {"field": "energy2"},
            "y": {"field": "value", "type": "quantitative", "scale": {"domain": [-0.1, 6], "nice": false, "zero": false}, "axis": null},
            "y2": {"field": "value2"}
          }
        },
        {
          "data": {"name": "xas_box"},
          "mark": {"type": "text", "align": "center", "baseline": "middle", "fontSize": 19, "fontWeight": "bold", "color": "white"},
          "encoding": {
            "x": {"field": "mid", "type": "quantitative", "scale": {"domain": [523, 550], "nice": false, "zero": false}, "axis": null},
            "y": {"field": "midv", "type": "quantitative", "scale": {"domain": [-0.1, 6], "nice": false, "zero": false}, "axis": null},
            "text": {"field": "label"}
          }
        }
      ],
      "resolve": {"axis": {"x": "independent", "y": "independent"}}
    },
    {
      "width": 242, "height": 99,
      "layer": [
        {
          "data": {"name": "nxes_d"},
          "mark": {"type": "line", "clip": true, "strokeWidth": 2.5, "interpolate": "monotone"},
          "encoding": {
            "x": {"field": "energy", "type": "quantitative", "scale": {"domain": [516, 536], "nice": false, "zero": false},
                  "axis": {"orient": "bottom", "values": [518, 523, 528, 533], "tickSize": 6, "labelPadding": 11, "title": "Emission Energy (eV)", "titlePadding": 9}},
            "y": {"field": "value", "type": "quantitative", "scale": {"domain": [-0.05, 2.3], "nice": false, "zero": false},
                  "axis": {"orient": "left", "values": [0, 1, 2], "tickSize": 7, "labelPadding": 7, "title": "2ⁿᵈ Derivative", "titleFontSize": 22, "titlePadding": 32, "titleY": 66}},
            "color": {"field": "series", "type": "nominal", "legend": null,
                      "scale": {"domain": ["a-PbO-1","a-PbO-2","a-PbO-3","p-PbO","α-PbO","β-PbO","α-PbO-Cal","β-PbO-Cal","α-PbO-Cal calc","β-PbO-Cal calc"], "range": ["#0000ff","#ff0000","#00ff00","#000000","#ff00ff","#00ffff","#ff8000","#000000","#0000ff","#ff0000"]}}
          }
        },
        {
          "data": {"name": "nxes_arrows"},
          "mark": {"type": "rule", "strokeWidth": 2, "color": "black"},
          "encoding": {
            "x": {"field": "energy", "type": "quantitative", "scale": {"domain": [516, 536], "nice": false, "zero": false},
                  "axis": {"orient": "bottom", "values": [517,518,519,520,521,522,523,524,525,526,527,528,529,530,531,532,533,534,535], "labels": false, "title": null, "tickSize": 3}},
            "y": {"field": "value", "type": "quantitative", "scale": {"domain": [-0.05, 2.3], "nice": false, "zero": false},
                  "axis": {"orient": "left", "values": [0,0.1,0.2,0.3,0.4,0.5,0.6,0.7,0.8,0.9,1,1.1,1.2,1.3,1.4,1.5,1.6,1.7,1.8,1.9,2,2.1,2.2], "labels": false, "title": null, "tickSize": 4}},
            "y2": {"field": "value2"}
          }
        },
        {
          "data": {"name": "nxes_arrows"},
          "mark": {"type": "point", "shape": "triangle-up", "filled": true, "size": 45, "color": "black", "opacity": 1},
          "encoding": {
            "x": {"field": "energy", "type": "quantitative", "scale": {"domain": [516, 536], "nice": false, "zero": false},
                  "axis": {"orient": "top", "values": [518, 523, 528, 533], "labels": false, "title": null, "tickSize": 6, "offset": -6}},
            "y": {"field": "value2", "type": "quantitative", "scale": {"domain": [-0.05, 2.3], "nice": false, "zero": false},
                  "axis": {"orient": "right", "values": [0, 1, 2], "labels": false, "title": null, "tickSize": 6, "offset": -6}}
          }
        },
        {
          "data": {"name": "nxes_arrows"},
          "mark": {"type": "text", "align": "left", "baseline": "middle", "fontSize": 17},
          "encoding": {
            "x": {"field": "lx", "type": "quantitative", "scale": {"domain": [516, 536], "nice": false, "zero": false},
                  "axis": {"orient": "top", "values": [517,518,519,520,521,522,523,524,525,526,527,528,529,530,531,532,533,534,535], "labels": false, "title": null, "tickSize": 3, "offset": -3}},
            "y": {"field": "ly", "type": "quantitative", "scale": {"domain": [-0.05, 2.3], "nice": false, "zero": false},
                  "axis": {"orient": "right", "values": [0,0.1,0.2,0.3,0.4,0.5,0.6,0.7,0.8,0.9,1,1.1,1.2,1.3,1.4,1.5,1.6,1.7,1.8,1.9,2,2.1,2.2], "labels": false, "title": null, "tickSize": 3, "offset": -3}},
            "text": {"field": "label"}
          }
        }
      ],
      "resolve": {"axis": {"x": "independent", "y": "independent"}}
    },
    {
      "width": 242, "height": 99,
      "layer": [
        {
          "data": {"name": "xas_d"},
          "mark": {"type": "line", "clip": true, "strokeWidth": 2.5, "interpolate": "monotone"},
          "encoding": {
            "x": {"field": "energy", "type": "quantitative", "scale": {"domain": [523, 550], "nice": false, "zero": false},
                  "axis": {"orient": "bottom", "values": [527, 532, 537, 542, 547], "tickSize": 6, "labelPadding": 11, "title": "Excitation Energy (eV)", "titlePadding": 9}},
            "y": {"field": "value", "type": "quantitative", "scale": {"domain": [-0.08, 2.6], "nice": false, "zero": false},
                  "axis": {"orient": "right", "values": [0, 1, 2], "tickSize": 7, "labelPadding": 9, "title": "2ⁿᵈ Derivative", "titleFontSize": 22, "titleAngle": 270, "titleBaseline": "top", "titlePadding": 10, "titleY": 66}},
            "color": {"field": "series", "type": "nominal", "legend": null,
                      "scale": {"domain": ["a-PbO-1","a-PbO-2","a-PbO-3","p-PbO","α-PbO","β-PbO","α-PbO-Cal","β-PbO-Cal","α-PbO-Cal calc","β-PbO-Cal calc"], "range": ["#0000ff","#ff0000","#00ff00","#000000","#ff00ff","#00ffff","#ff8000","#000000","#0000ff","#ff0000"]}}
          }
        },
        {
          "data": {"name": "xas_arrows"},
          "mark": {"type": "rule", "strokeWidth": 2, "color": "black"},
          "encoding": {
            "x": {"field": "energy", "type": "quantitative", "scale": {"domain": [523, 550], "nice": false, "zero": false},
                  "axis": {"orient": "bottom", "values": [524,525,526,527,528,529,530,531,532,533,534,535,536,537,538,539,540,541,542,543,544,545,546,547,548,549], "labels": false, "title": null, "tickSize": 3}},
            "y": {"field": "value", "type": "quantitative", "scale": {"domain": [-0.08, 2.6], "nice": false, "zero": false},
                  "axis": {"orient": "right", "values": [0,0.1,0.2,0.3,0.4,0.5,0.6,0.7,0.8,0.9,1,1.1,1.2,1.3,1.4,1.5,1.6,1.7,1.8,1.9,2,2.1,2.2,2.3,2.4,2.5], "labels": false, "title": null, "tickSize": 4}},
            "y2": {"field": "value2"}
          }
        },
        {
          "data": {"name": "xas_arrows"},
          "mark": {"type": "point", "shape": "triangle-up", "filled": true, "size": 45, "color": "black", "opacity": 1},
          "encoding": {
            "x": {"field": "energy", "type": "quantitative", "scale": {"domain": [523, 550], "nice": false, "zero": false},
                  "axis": {"orient": "top", "values": [527, 532, 537, 542, 547], "labels": false, "title": null, "tickSize": 6, "offset": -6}},
            "y": {"field": "value2", "type": "quantitative", "scale": {"domain": [-0.08, 2.6], "nice": false, "zero": false},
                  "axis": {"orient": "left", "values": [0, 1, 2], "labels": false, "title": null, "tickSize": 6, "offset": -6}}
          }
        },
        {
          "data": {"name": "xas_arrows"},
          "mark": {"type": "text", "align": "left", "baseline": "middle", "fontSize": 17},
          "encoding": {
            "x": {"field": "lx", "type": "quantitative", "scale": {"domain": [523, 550], "nice": false, "zero": false},
                  "axis": {"orient": "top", "values": [524,525,526,527,528,529,530,531,532,533,534,535,536,537,538,539,540,541,542,543,544,545,546,547,548,549], "labels": false, "title": null, "tickSize": 3, "offset": -3}},
            "y": {"field": "ly", "type": "quantitative", "scale": {"domain": [-0.08, 2.6], "nice": false, "zero": false},
                  "axis": {"orient": "left", "values": [0,0.1,0.2,0.3,0.4,0.5,0.6,0.7,0.8,0.9,1,1.1,1.2,1.3,1.4,1.5,1.6,1.7,1.8,1.9,2,2.1,2.2,2.3,2.4,2.5], "labels": false, "title": null, "tickSize": 3, "offset": -3}},
            "text": {"field": "label"}
          }
        }
      ],
      "resolve": {"axis": {"x": "independent", "y": "independent"}}
    }
  ]
}
